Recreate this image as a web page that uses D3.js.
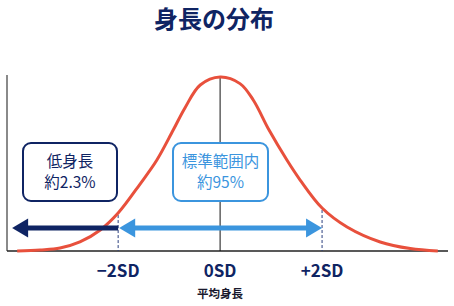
<!DOCTYPE html>
<html>
<head>
<meta charset="utf-8" />
<title>身長の分布</title>
<script src="https://cdn.jsdelivr.net/npm/d3@7"></script>
<style>
    html, body { margin: 0; padding: 0; background: #fff; }
    svg { display: block; font-family: "Noto Sans CJK JP", "Noto Sans", sans-serif; }
</style>
</head>
<body>
<script>

    // 曲線の読み取り値 (x: SD単位, y: ピークを1とした相対値)
    var curveX = [-3.98, -3.53, -3.14, -2.75, -2.35, -2.0, -1.57, -1.24, -0.92, -0.69, -0.39, 0,
                  0.39, 0.65, 0.96, 1.31, 1.57, 2.0, 2.49, 3.14, 3.73, 4.27];
    var curveY = [0, 0.006, 0.017, 0.052, 0.121, 0.218, 0.385, 0.523, 0.695, 0.822, 0.954, 1.0,
                  0.962, 0.868, 0.695, 0.523, 0.408, 0.247, 0.138, 0.052, 0.014, 0];

    var tickValues = [-2, 0, 2];
    var tickLabels = ['−2SD', '0SD', '+2SD'];
    var meanLabel = '平均身長';
    var title = '身長の分布';

    var lowRange = [-4.08, -2];
    var normalRange = [-2, 2];
    var lowText = ['低身長', '約2.3%'];
    var normalText = ['標準範囲内', '約95%'];

    var width = 454, height = 306;
    var navy = '#0f2463', light = '#3b95de', red = '#e8503c';

    var svg = d3.select('body').append('svg').attr('width', width).attr('height', height);

    var x = d3.scaleLinear().domain([-4.18, 4.47]).range([7, 448]);
    var y = d3.scaleLinear().domain([0, 1]).range([251, 77]);

    // タイトル
    svg.append('text').attr('x', 214).attr('y', 28).attr('text-anchor', 'middle')
        .attr('font-size', 24).attr('font-weight', 700).attr('fill', navy).text(title);

    // 軸
    svg.append('line').attr('x1', 7).attr('x2', 7).attr('y1', 75).attr('y2', 251)
        .attr('stroke', '#8a8a8a').attr('stroke-width', 2);
    svg.append('line').attr('x1', 7).attr('x2', 448).attr('y1', y(0)).attr('y2', y(0))
        .attr('stroke', '#222').attr('stroke-width', 1.5);
    svg.append('line').attr('x1', x(0)).attr('x2', x(0)).attr('y1', y(1)).attr('y2', y(0))
        .attr('stroke', '#111').attr('stroke-width', 1);

    var points = curveX.map(function(d, i) { return [d, curveY[i]]; });
    var lineGen = d3.line().x(function(d) { return x(d[0]); }).y(function(d) { return y(d[1]); })
        .curve(d3.curveCatmullRom.alpha(0.5));

    // ±2SDの点線
    var sdLines = [normalRange[0], normalRange[1]];
    svg.selectAll('.sdline').data(sdLines).enter().append('line').attr('class', 'sdline')
        .attr('x1', function(d) { return x(d); }).attr('x2', function(d) { return x(d); })
        .attr('y1', function(d) { return y(d3.scaleLinear().domain(curveX).range(curveY)(d)) + 2; })
        .attr('y2', y(0))
        .attr('stroke', '#2b3f7e').attr('stroke-width', 1).attr('stroke-dasharray', '3,2');

    svg.append('path').attr('d', lineGen(points)).attr('fill', 'none')
        .attr('stroke', red).attr('stroke-width', 3);

    // 矢印
    var ay = 228, headL = 16, headH = 9.5;
    function arrow(range, color, both) {
        var x0 = x(range[0]), x1 = x(range[1]);
        var g = svg.append('g');
        g.append('line').attr('x1', x0 + headL - 1).attr('x2', both ? x1 - headL + 1 : x1)
            .attr('y1', ay).attr('y2', ay).attr('stroke', color).attr('stroke-width', 5);
        g.append('path').attr('fill', color)
            .attr('d', 'M' + x0 + ',' + ay + 'L' + (x0 + headL) + ',' + (ay - headH) + 'L' + (x0 + headL) + ',' + (ay + headH) + 'Z');
        if (both) {
            g.append('path').attr('fill', color)
                .attr('d', 'M' + x1 + ',' + ay + 'L' + (x1 - headL) + ',' + (ay - headH) + 'L' + (x1 - headL) + ',' + (ay + headH) + 'Z');
        }
    }
    arrow(lowRange, navy, false);
    arrow([normalRange[0] + 0.02, normalRange[1]], light, true);

    // 注記ボックス
    function box(cx, w, lines, color) {
        var g = svg.append('g');
        g.append('rect').attr('x', cx - w / 2).attr('y', 143).attr('width', w).attr('height', 58)
            .attr('rx', 8).attr('fill', '#fff').attr('stroke', color).attr('stroke-width', 2);
        g.selectAll('text').data(lines).enter().append('text')
            .attr('x', cx).attr('y', function(d, i) { return 167 + i * 21; })
            .attr('text-anchor', 'middle').attr('font-size', 15.5).attr('fill', color)
            .text(function(d) { return d; });
    }
    box(70, 94, lowText, navy);
    box(220.5, 95, normalText, light);

    // 目盛りラベル
    svg.selectAll('.tick').data(tickValues).enter().append('text').attr('class', 'tick')
        .attr('x', function(d) { return x(d); }).attr('y', 277).attr('text-anchor', 'middle')
        .attr('font-size', 17).attr('font-weight', 700).attr('fill', navy)
        .text(function(d, i) { return tickLabels[i]; });

    svg.append('text').attr('x', x(0)).attr('y', 298).attr('text-anchor', 'middle')
        .attr('font-size', 11.5).attr('font-weight', 700).attr('fill', '#1a1a2e').text(meanLabel);

</script>
</body>
</html>
